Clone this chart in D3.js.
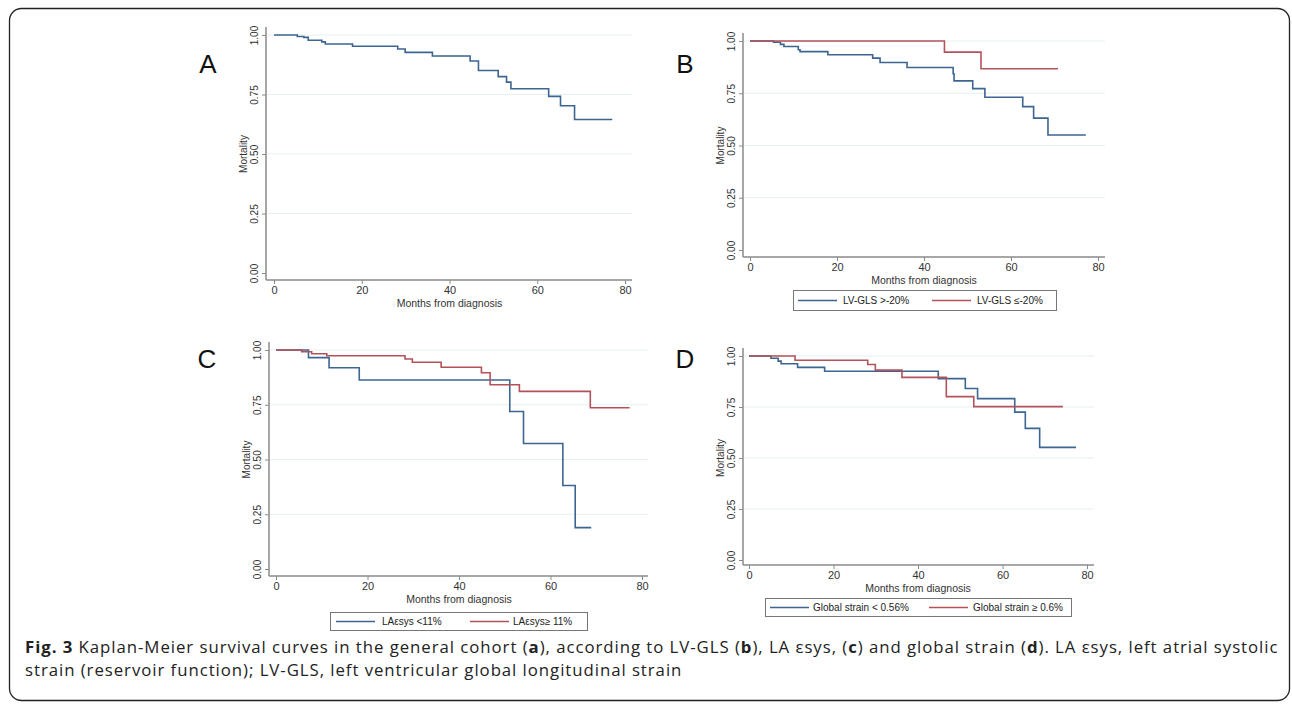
<!DOCTYPE html>
<html>
<head>
<meta charset="utf-8">
<script src="https://cdn.jsdelivr.net/npm/d3@7"></script>
<style>
  body { margin: 0; background: #fff; }
  svg { display: block; }
</style>
</head>
<body>
<div id="chart"></div>
<script>
// Tick values
var monthTicks = [0, 20, 40, 60, 80];
var survTicks = [0, 0.25, 0.5, 0.75, 1];
var gridTicks = [0.25, 0.5, 0.75, 1];

// Kaplan-Meier step points [month, survival]
var curveA = [[0, 1], [5.3, 0.994], [6.8, 0.99], [7.8, 0.978], [10.9, 0.971], [11.7, 0.962],
  [17.9, 0.953], [28.2, 0.941], [29.9, 0.927], [36.1, 0.912], [44.7, 0.891], [46.6, 0.851],
  [51.1, 0.825], [53.0, 0.802], [54.0, 0.774], [62.6, 0.742], [65.3, 0.703], [68.5, 0.645], [77.1, 0.645]];

var curveB_high = [[0, 1], [5.4, 0.994], [7.0, 0.984], [7.8, 0.974], [11.1, 0.958], [11.5, 0.949],
  [17.9, 0.934], [28.2, 0.918], [29.9, 0.897], [36.1, 0.873], [46.7, 0.843], [46.9, 0.809],
  [51.2, 0.772], [54.0, 0.731], [62.7, 0.686], [65.2, 0.631], [68.5, 0.55], [77.2, 0.55]];
var curveB_low = [[0, 1], [44.7, 0.947], [53.1, 0.867], [70.8, 0.867]];

var curveC_low = [[0, 1], [7.1, 0.965], [11.6, 0.919], [18.2, 0.863], [51.1, 0.719], [54.1, 0.573],
  [62.7, 0.381], [65.4, 0.189], [68.9, 0.189]];
var curveC_high = [[0, 1], [5.6, 0.992], [7.8, 0.983], [11.1, 0.974], [28.2, 0.959], [29.8, 0.944],
  [36.1, 0.921], [44.9, 0.896], [46.8, 0.841], [53.2, 0.811], [68.7, 0.736], [77.3, 0.736]];

var curveD_low = [[0, 1], [5.2, 0.989], [6.9, 0.975], [7.6, 0.962], [11.5, 0.944], [17.9, 0.925],
  [44.8, 0.889], [51.2, 0.841], [54.1, 0.791], [62.9, 0.725], [65.4, 0.645], [68.8, 0.552], [77.4, 0.552]];
var curveD_high = [[0, 1], [10.9, 0.979], [28.1, 0.958], [29.9, 0.931], [36.2, 0.895], [46.7, 0.801],
  [53.2, 0.752], [74.3, 0.752]];

var legendB = ["LV-GLS >-20%", "LV-GLS \u2264-20%"];
var legendC = ["LA\u03B5sys <11%", "LA\u03B5sys\u2265 11%"];
var legendD = ["Global strain < 0.56%", "Global strain \u2265 0.6%"];

var blue = "#3d6591";
var red = "#b4525a";

var W = 1292, H = 704;
var svg = d3.select("#chart").append("svg").attr("width", W).attr("height", H);

// outer frame
svg.append("rect")
  .attr("x", 9.5).attr("y", 8.5)
  .attr("width", 1280).attr("height", 692)
  .attr("rx", 12)
  .attr("fill", "none")
  .attr("stroke", "#222")
  .attr("stroke-width", 1.3);

// panel layout (pixel frame for each plot)
var panels = [
  { label: "A", lx: 208, ly: 73, axisX: 266, axisY: 280, x0: 274, x1: 625, xEnd: 632, y0: 273, y1: 35,
    curves: [{ d: curveA, c: blue }], legend: null },
  { label: "B", lx: 685, ly: 73, axisX: 743, axisY: 257, x0: 750, x1: 1098, xEnd: 1105, y0: 250, y1: 41,
    curves: [{ d: curveB_high, c: blue }, { d: curveB_low, c: red }],
    legend: { names: legendB, x: 793, y: 290, w: 263, h: 20, s1: 798, t1: 843, s2: 932, t2: 977 } },
  { label: "C", lx: 207, ly: 368, axisX: 269, axisY: 576, x0: 276, x1: 642, xEnd: 648, y0: 569, y1: 350,
    curves: [{ d: curveC_low, c: blue }, { d: curveC_high, c: red }],
    legend: { names: legendC, x: 330, y: 612, w: 257, h: 18, s1: 336, t1: 382, s2: 470, t2: 513 } },
  { label: "D", lx: 685, ly: 368, axisX: 743, axisY: 565, x0: 749, x1: 1087, xEnd: 1094, y0: 560, y1: 356,
    curves: [{ d: curveD_low, c: blue }, { d: curveD_high, c: red }],
    legend: { names: legendD, x: 765, y: 598, w: 306, h: 18, s1: 770, t1: 813, s2: 929, t2: 973 } }
];

panels.forEach(function (p) {
  var g = svg.append("g");

  var x = d3.scaleLinear().domain([0, 80]).range([p.x0, p.x1]);
  var y = d3.scaleLinear().domain([0, 1]).range([p.y0, p.y1]);

  // panel letter
  g.append("text")
    .attr("x", p.lx).attr("y", p.ly)
    .attr("text-anchor", "middle")
    .style("font-family", "Liberation Sans, Arial, sans-serif")
    .style("font-size", "26px")
    .attr("fill", "#111")
    .text(p.label);

  // gridlines
  g.selectAll(".grid")
    .data(gridTicks)
    .enter()
    .append("line")
    .attr("x1", p.axisX + 1).attr("x2", p.xEnd)
    .attr("y1", (d) => y(d)).attr("y2", (d) => y(d))
    .attr("stroke", "#e6eff1")
    .attr("stroke-width", 1);

  // y axis
  var yAxis = g.append("g")
    .attr("transform", "translate(" + p.axisX + ",0)")
    .call(d3.axisLeft(y).tickValues(survTicks).tickFormat(d3.format(".2f")).tickSize(4).tickPadding(3));
  yAxis.select(".domain").remove();
  yAxis.append("line")
    .attr("x1", 0).attr("x2", 0)
    .attr("y1", p.y1 - 8).attr("y2", p.axisY)
    .attr("stroke", "#8a8a8a").attr("stroke-width", 1.5);
  yAxis.selectAll(".tick line").attr("stroke", "#8a8a8a");
  yAxis.selectAll(".tick text")
    .attr("transform", "rotate(-90)")
    .attr("x", 0).attr("y", -8)
    .attr("dy", "0")
    .style("text-anchor", "middle")
    .style("font-family", "Liberation Sans, Arial, sans-serif")
    .style("font-size", "10px")
    .attr("fill", "#333");

  g.append("text")
    .attr("transform", "translate(" + (p.axisX - 19) + "," + ((p.y0 + p.y1) / 2) + ") rotate(-90)")
    .attr("text-anchor", "middle")
    .style("font-family", "Liberation Sans, Arial, sans-serif")
    .style("font-size", "10px")
    .attr("fill", "#333")
    .text("Mortality");

  // x axis
  var xAxis = g.append("g")
    .attr("transform", "translate(0," + p.axisY + ")")
    .call(d3.axisBottom(x).tickValues(monthTicks).tickSize(4).tickPadding(2));
  xAxis.select(".domain").remove();
  xAxis.append("line")
    .attr("x1", p.axisX).attr("x2", p.xEnd)
    .attr("y1", 0).attr("y2", 0)
    .attr("stroke", "#8a8a8a").attr("stroke-width", 1.5);
  xAxis.selectAll(".tick line").attr("stroke", "#8a8a8a");
  xAxis.selectAll(".tick text")
    .style("font-family", "Liberation Sans, Arial, sans-serif")
    .style("font-size", "11px")
    .attr("fill", "#333");

  g.append("text")
    .attr("x", (p.x0 + p.x1) / 2).attr("y", p.axisY + 27)
    .attr("text-anchor", "middle")
    .style("font-family", "Liberation Sans, Arial, sans-serif")
    .style("font-size", "10.5px")
    .attr("fill", "#333")
    .text("Months from diagnosis");

  // KM step curves
  var line = d3.line()
    .x((d) => x(d[0]))
    .y((d) => y(d[1]))
    .curve(d3.curveStepAfter);

  p.curves.forEach(function (c) {
    g.append("path")
      .datum(c.d)
      .attr("d", line)
      .attr("fill", "none")
      .attr("stroke", c.c)
      .attr("stroke-width", 1.6);
  });

  // legend
  if (p.legend) {
    var L = p.legend;
    g.append("rect")
      .attr("x", L.x + 0.5).attr("y", L.y + 0.5)
      .attr("width", L.w).attr("height", L.h)
      .attr("fill", "#fff")
      .attr("stroke", "#777")
      .attr("stroke-width", 1);
    var ym = L.y + L.h / 2 + 0.5;
    [[L.s1, L.t1, blue, L.names[0]], [L.s2, L.t2, red, L.names[1]]].forEach(function (e) {
      g.append("line")
        .attr("x1", e[0]).attr("x2", e[0] + 39)
        .attr("y1", ym).attr("y2", ym)
        .attr("stroke", e[2]).attr("stroke-width", 1.6);
      g.append("text")
        .attr("x", e[1]).attr("y", ym + 3.5)
        .style("font-family", "Liberation Sans, Arial, sans-serif")
        .style("font-size", "10px")
        .attr("fill", "#222")
        .text(e[3]);
    });
  }
});

// caption (two lines, 23px apart as in the figure)
var cap = svg.append("text")
  .attr("x", 25).attr("y", 653)
  .style("font-family", "Open Sans, sans-serif")
  .style("font-size", "16.8px")
  .style("letter-spacing", "0.95px")
  .attr("fill", "#222");
var parts1 = [["Fig. 3", true], [" Kaplan-Meier survival curves in the general cohort (", false], ["a", true],
  ["), according to LV-GLS (", false], ["b", true], ["), LA \u03B5sys, (", false], ["c", true],
  [") and global strain (", false], ["d", true], ["). LA \u03B5sys, left atrial systolic", false]];
parts1.forEach(function (t) {
  cap.append("tspan").style("font-weight", t[1] ? "bold" : "normal").text(t[0]);
});
svg.append("text")
  .attr("x", 25).attr("y", 676)
  .style("font-family", "Open Sans, sans-serif")
  .style("font-size", "16.8px")
  .style("letter-spacing", "0.95px")
  .attr("fill", "#222")
  .text("strain (reservoir function); LV-GLS, left ventricular global longitudinal strain");
</script>
</body>
</html>
